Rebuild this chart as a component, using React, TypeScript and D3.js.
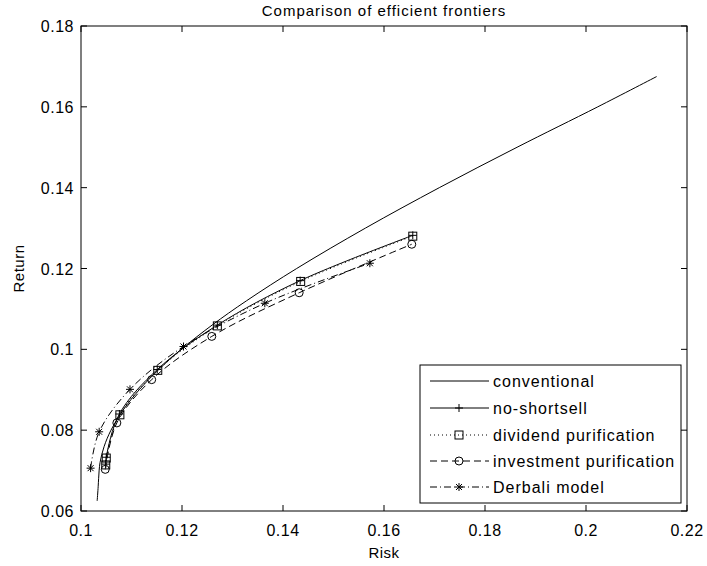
import React from "react";
import * as d3 from "d3";

const xTicks = [0.1, 0.12, 0.14, 0.16, 0.18, 0.2, 0.22];
const yTicks = [0.06, 0.08, 0.1, 0.12, 0.14, 0.16, 0.18];
const xTickLabels = ["0.1", "0.12", "0.14", "0.16", "0.18", "0.2", "0.22"];
const yTickLabels = ["0.06", "0.08", "0.1", "0.12", "0.14", "0.16", "0.18"];

const convRisk = [0.1032, 0.1034, 0.10349, 0.10377, 0.10459, 0.10594, 0.10836, 0.11153, 0.11539, 0.11986, 0.12596, 0.13276, 0.14271, 0.15633, 0.17095, 0.18635, 0.20233, 0.2140];
const convRet = [0.0625, 0.066, 0.068, 0.072, 0.076, 0.08, 0.085, 0.09, 0.095, 0.1, 0.106, 0.112, 0.12, 0.13, 0.14, 0.15, 0.16, 0.1675];

const nsRisk = [0.1049, 0.105, 0.1076, 0.1151, 0.127, 0.1434, 0.1657];
const nsRet = [0.0716, 0.0733, 0.084, 0.095, 0.106, 0.117, 0.1282];

const divRisk = [0.1049, 0.105, 0.1077, 0.1152, 0.127, 0.1435, 0.1657];
const divRet = [0.0714, 0.0731, 0.0838, 0.0948, 0.1058, 0.1168, 0.128];

const invRisk = [0.1048, 0.1071, 0.114, 0.1259, 0.1432, 0.1655];
const invRet = [0.0703, 0.0818, 0.0925, 0.1032, 0.114, 0.126];

const derRisk = [0.1019, 0.1036, 0.1097, 0.1203, 0.1364, 0.1572];
const derRet = [0.0706, 0.0796, 0.0901, 0.1007, 0.1114, 0.1213];

const legendLabels = ["conventional", "no-shortsell", "dividend purification", "investment purification", "Derbali model"];

const FONT = "'Liberation Sans', Arial, sans-serif";

const L = 81, R = 687, T = 26, B = 511;

const x = d3.scaleLinear().domain([0.1, 0.22]).range([L, R]);
const y = d3.scaleLinear().domain([0.06, 0.18]).range([B, T]);

type Pt = [number, number];
const zip = (a: number[], b: number[]): Pt[] => a.map((v, i) => [v, b[i]]);

const smoothGen = d3.line<Pt>().x(d => x(d[0])).y(d => y(d[1])).curve(d3.curveCatmullRom.alpha(0.5));

type MarkerKind = "plus" | "square" | "circle" | "star" | "none";

function Marker({ kind, cx, cy }: { kind: MarkerKind; cx: number; cy: number }) {
  const s = 4;
  const st = { stroke: "#000", strokeWidth: 1, fill: "none" };
  if (kind === "plus")
    return <path d={`M${cx - s},${cy}H${cx + s}M${cx},${cy - s}V${cy + s}`} {...st} />;
  if (kind === "square") return <rect x={cx - s} y={cy - s} width={2 * s} height={2 * s} {...st} />;
  if (kind === "circle") return <circle cx={cx} cy={cy} r={s} {...st} />;
  if (kind === "star") {
    const d = s * 0.75;
    return (
      <path
        d={`M${cx - s},${cy}H${cx + s}M${cx},${cy - s}V${cy + s}M${cx - d},${cy - d}L${cx + d},${cy + d}M${cx - d},${cy + d}L${cx + d},${cy - d}`}
        {...st}
      />
    );
  }
  return null;
}

const series = [
  { pts: zip(convRisk, convRet), dash: "none", marker: "none" as MarkerKind, showMarkers: false },
  { pts: zip(nsRisk, nsRet), dash: "none", marker: "plus" as MarkerKind, showMarkers: true },
  { pts: zip(divRisk, divRet), dash: "1,3", marker: "square" as MarkerKind, showMarkers: true },
  { pts: zip(invRisk, invRet), dash: "7,4", marker: "circle" as MarkerKind, showMarkers: true },
  { pts: zip(derRisk, derRet), dash: "7,3,1,3", marker: "star" as MarkerKind, showMarkers: true },
];

export default function App() {
  const legX = 420, legY = 365, legW = 261, legH = 138;
  const rowY = [381, 408, 435, 461, 487];
  return (
    <div style={{ position: "absolute", left: 0, top: 0 }}>
      <svg width={707} height={566} style={{ display: "block", background: "#fff" }} fontFamily={FONT}>
        <rect x={0} y={0} width={707} height={566} fill="#fff" />
        <text x={(L + R) / 2} y={16} textAnchor="middle" fontSize={15} letterSpacing={1}>Comparison of efficient frontiers</text>
        {series.map((s, i) => (
          <g key={i}>
            <path
              d={smoothGen(s.pts) || ""}
              fill="none"
              stroke="#000"
              strokeWidth={1}
              strokeDasharray={s.dash === "none" ? undefined : s.dash}
            />
            {s.showMarkers && s.pts.map((p, j) => <Marker key={j} kind={s.marker} cx={x(p[0])} cy={y(p[1])} />)}
          </g>
        ))}
        <rect x={L} y={T} width={R - L} height={B - T} fill="none" stroke="#000" strokeWidth={1} />
        {xTicks.map((t, i) => (
          <g key={"xt" + i}>
            <line x1={x(t)} x2={x(t)} y1={B} y2={B - 6} stroke="#000" />
            <line x1={x(t)} x2={x(t)} y1={T} y2={T + 6} stroke="#000" />
            <text x={x(t)} y={536} textAnchor="middle" fontSize={16} letterSpacing={0.5}>{xTickLabels[i]}</text>
          </g>
        ))}
        {yTicks.map((t, i) => (
          <g key={"yt" + i}>
            <line x1={L} x2={L + 6} y1={y(t)} y2={y(t)} stroke="#000" />
            <line x1={R} x2={R - 6} y1={y(t)} y2={y(t)} stroke="#000" />
            <text x={74} y={y(t) + 6} textAnchor="end" fontSize={16} letterSpacing={0.5}>{yTickLabels[i]}</text>
          </g>
        ))}
        <text x={(L + R) / 2} y={558} textAnchor="middle" fontSize={15} letterSpacing={0.5}>Risk</text>
        <text transform={`translate(24,${(T + B) / 2}) rotate(-90)`} textAnchor="middle" fontSize={15} letterSpacing={0.5}>Return</text>
        <rect x={legX} y={legY} width={legW} height={legH} fill="#fff" stroke="#000" strokeWidth={1} />
        {series.map((s, i) => (
          <g key={"lg" + i}>
            <line x1={430} x2={489} y1={rowY[i]} y2={rowY[i]} stroke="#000" strokeWidth={1} strokeDasharray={s.dash === "none" ? undefined : s.dash} />
            <Marker kind={s.marker} cx={459} cy={rowY[i]} />
            <text x={493} y={rowY[i] + 6} fontSize={16} letterSpacing={1}>{legendLabels[i]}</text>
          </g>
        ))}
      </svg>
    </div>
  );
}
